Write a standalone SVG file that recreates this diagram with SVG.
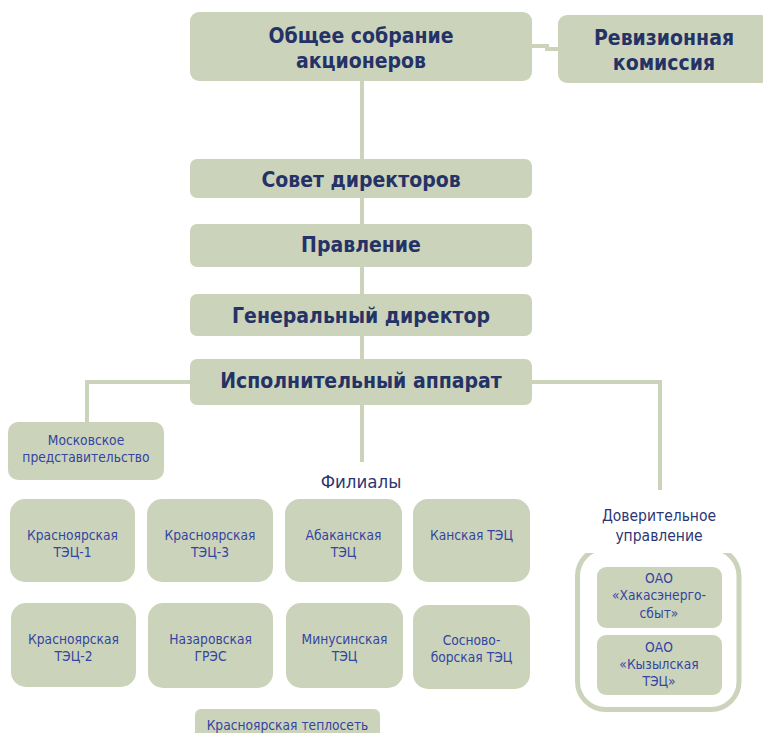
<svg xmlns="http://www.w3.org/2000/svg" width="763" height="733" viewBox="0 0 763 733">
<style>
.box{fill:#cbd4bb}
.con{fill:none;stroke:#cbd4bb;stroke-width:4}
.h{font-family:"DejaVu Sans Condensed","DejaVu Sans",sans-serif;font-stretch:condensed;font-weight:bold;font-size:21px;fill:#253266;text-anchor:middle}
.t{font-family:"DejaVu Sans Condensed","DejaVu Sans",sans-serif;font-stretch:condensed;font-size:13.7px;fill:#3444a0;text-anchor:middle}
.lbl{font-family:"DejaVu Sans Condensed","DejaVu Sans",sans-serif;font-stretch:condensed;fill:#2b3675;text-anchor:middle}
</style>
<rect width="763" height="733" fill="#ffffff"/>
<g id="connectors">
<line class="con" x1="362" y1="80" x2="362" y2="360"/>
<line class="con" x1="362" y1="404" x2="362" y2="462"/>
<polyline class="con" points="532,46 547,46 547,49 559,49"/>
<polyline class="con" points="191,382 87,382 87,423"/>
<polyline class="con" points="531,382 660,382 660,490"/>
</g>
<g id="n-obshchee"><rect class="box" x="190" y="12" width="342" height="69" rx="9"/><text class="h" x="361" y="43">Общее собрание</text><text class="h" x="361" y="68">акционеров</text></g>
<g id="n-revizion"><rect class="box" x="558" y="15" width="212" height="68" rx="9"/><text class="h" x="664" y="45">Ревизионная</text><text class="h" x="664" y="70">комиссия</text></g>
<g id="n-sovet"><rect class="box" x="190" y="159" width="342" height="39" rx="7"/><text class="h" x="361" y="187">Совет директоров</text></g>
<g id="n-pravlenie"><rect class="box" x="190" y="224" width="342" height="43" rx="7"/><text class="h" x="361" y="252">Правление</text></g>
<g id="n-gendir"><rect class="box" x="190" y="294" width="342" height="42" rx="7"/><text class="h" x="361" y="323">Генеральный директор</text></g>
<g id="n-ispolnit"><rect class="box" x="190" y="359" width="342" height="46" rx="7"/><text class="h" x="361" y="388">Исполнительный аппарат</text></g>
<g id="n-moscow"><rect class="box" x="8" y="422" width="156" height="58" rx="10"/><text class="t" x="86" y="445">Московское</text><text class="t" x="86" y="462">представительство</text></g>
<g id="l-filialy"><text class="lbl" x="361" y="488" font-size="18.5">Филиалы</text></g>
<g id="n-ktec1"><rect class="box" x="10" y="499" width="125" height="83" rx="15"/><text class="t" x="72.5" y="540">Красноярская</text><text class="t" x="72.5" y="557">ТЭЦ-1</text></g>
<g id="n-ktec3"><rect class="box" x="147" y="499" width="126" height="83" rx="15"/><text class="t" x="210" y="540">Красноярская</text><text class="t" x="210" y="557">ТЭЦ-3</text></g>
<g id="n-abakan"><rect class="box" x="285" y="499" width="117" height="83" rx="15"/><text class="t" x="343.5" y="540">Абаканская</text><text class="t" x="343.5" y="557">ТЭЦ</text></g>
<g id="n-kansk"><rect class="box" x="413" y="499" width="117" height="83" rx="15"/><text class="t" x="471.5" y="540">Канская ТЭЦ</text></g>
<g id="n-ktec2"><rect class="box" x="11" y="603" width="125" height="84" rx="15"/><text class="t" x="73.5" y="644">Красноярская</text><text class="t" x="73.5" y="661">ТЭЦ-2</text></g>
<g id="n-nazarovo"><rect class="box" x="148" y="603" width="125" height="85" rx="15"/><text class="t" x="210.5" y="644">Назаровская</text><text class="t" x="210.5" y="661">ГРЭС</text></g>
<g id="n-minusinsk"><rect class="box" x="286" y="603" width="117" height="85" rx="15"/><text class="t" x="344.5" y="644">Минусинская</text><text class="t" x="344.5" y="661">ТЭЦ</text></g>
<g id="n-sosnovo"><rect class="box" x="413" y="605" width="117" height="84" rx="15"/><text class="t" x="471.5" y="645">Сосново-</text><text class="t" x="471.5" y="662">борская ТЭЦ</text></g>
<g id="n-teploset"><rect class="box" x="195" y="709" width="185" height="40" rx="6"/><text class="t" x="287.5" y="730">Красноярская теплосеть</text></g>
<g id="g-doverit">
<rect x="577.5" y="548" width="161.5" height="161.5" rx="28" fill="#ffffff" stroke="#cbd4bb" stroke-width="5"/>
<rect x="586" y="495" width="146" height="58" fill="#ffffff"/>
<text class="lbl" x="659" y="521" font-size="15.5">Доверительное</text>
<text class="lbl" x="659" y="541" font-size="15.5">управление</text>
</g>
<g id="n-khakas"><rect class="box" x="597" y="567" width="125" height="61" rx="9"/><text class="t" x="659" y="583">ОАО</text><text class="t" x="659" y="600">«Хакасэнерго-</text><text class="t" x="659" y="618">сбыт»</text></g>
<g id="n-kyzyl"><rect class="box" x="597" y="635" width="125" height="60" rx="9"/><text class="t" x="659" y="652">ОАО</text><text class="t" x="659" y="669">«Кызылская</text><text class="t" x="659" y="686">ТЭЦ»</text></g>
</svg>
